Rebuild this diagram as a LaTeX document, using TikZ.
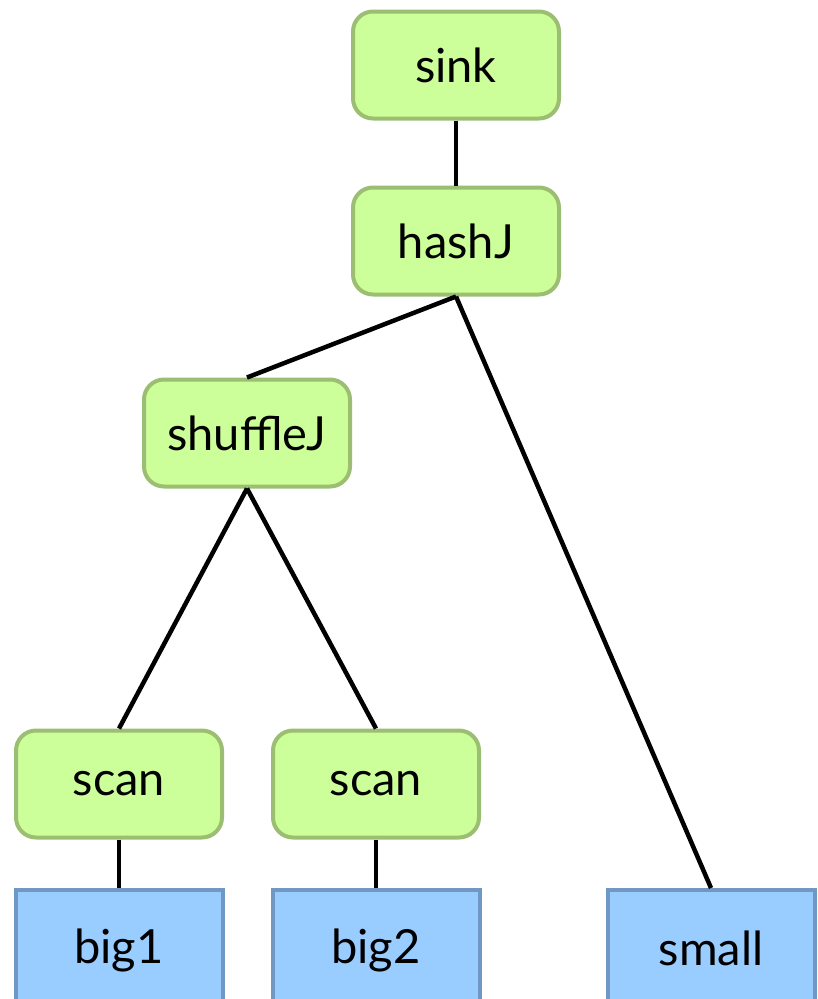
\documentclass[tikz,border=0pt]{standalone}
\usepackage{fontspec}
\setmainfont{Lato}
\usetikzlibrary{calc}
\definecolor{opfill}{RGB}{204,255,153}
\definecolor{opline}{RGB}{155,190,115}
\definecolor{tabfill}{RGB}{153,204,255}
\definecolor{tabline}{RGB}{112,152,195}
\tikzset{
  opbox/.style={draw=opline, fill=opfill, line width=4pt, rounded corners=20pt,
    minimum width=206pt, minimum height=107pt, inner sep=0pt,
    font=\fontsize{47}{54}\selectfont},
  tabbox/.style={draw=tabline, fill=tabfill, line width=4pt,
    minimum width=207pt, minimum height=120pt, inner sep=0pt,
    font=\fontsize{47}{54}\selectfont},
  edge/.style={line width=4.5pt, black}
}

\begin{document}
\begin{tikzpicture}[x=1pt, y=-1pt]
		%%%%% START %%%%%
		\useasboundingbox (0, 0) rectangle (818, 999);
		\clip (0, 0) rectangle (818, 999);
		
		% operators
		\node[opbox] (sink) at (456, 65) {sink};
		\node[opbox] (hashj) at (456, 241) {hashJ};
		\node[opbox] (shufflej) at (247, 433) {shuffleJ};
		\node[opbox] (scana) at (119, 784) {scan};
		\node[opbox] (scanb) at (376, 784) {scan};
		
		% tables
		\node[tabbox] (biga) at (119, 950) {\raisebox{3pt}{big1}};
		\node[tabbox] (bigb) at (376, 950) {\raisebox{3pt}{big2}};
		\node[tabbox] (small) at (711, 950) {\raisebox{3pt}{small}};
		
		% plan edges
		\draw[edge] (sink.south) -- (hashj.north);
		\draw[edge] (hashj.south) -- (shufflej.north);
		\draw[edge] (hashj.south) -- (small.north);
		\draw[edge] (shufflej.south) -- (scana.north);
		\draw[edge] (shufflej.south) -- (scanb.north);
		\draw[edge] (scana.south) -- (biga.north);
		\draw[edge] (scanb.south) -- (bigb.north);
		
		%%%%% END %%%%%
	\end{tikzpicture}
\end{document}
